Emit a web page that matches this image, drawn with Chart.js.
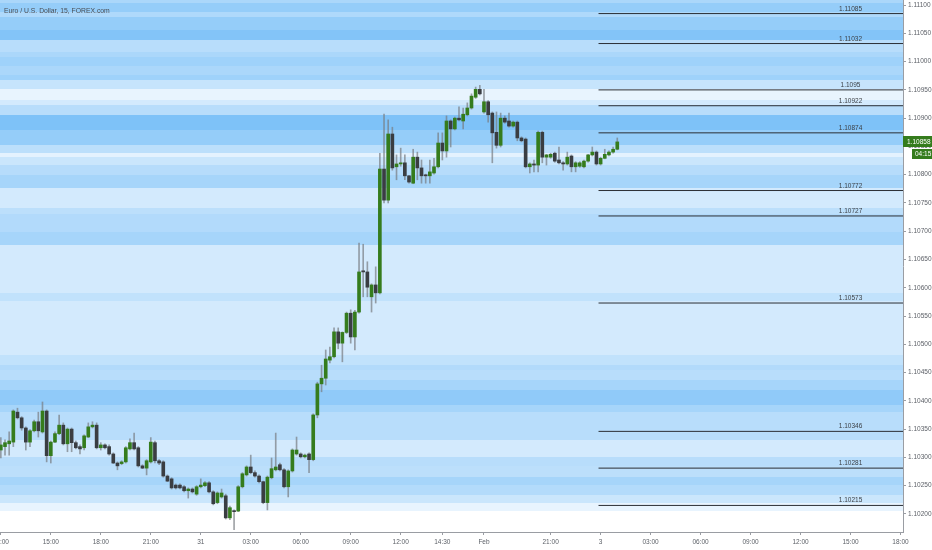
<!DOCTYPE html>
<html>
<head>
<meta charset="utf-8">
<script src="https://cdn.jsdelivr.net/npm/chart.js@4.4.1/dist/chart.umd.min.js"></script>
<style>
  html, body { margin: 0; padding: 0; background: #fff; overflow: hidden; }
  canvas { display: block; }
</style>
</head>
<body>
<canvas id="chart" width="932" height="550"></canvas>
<script>
// EUR/USD 15m candles, index 0 = 30 Jan 12:00
const candleOpen = [
  1.10313,1.10319,1.10324,1.10327,1.10380,1.10370,1.10352,1.10327,1.10347,1.10363,
  1.10345,1.10382,1.10303,1.10327,1.10342,1.10357,1.10324,1.10350,1.10326,1.10319,
  1.10317,1.10336,1.10354,1.10357,1.10317,1.10322,1.10319,1.10306,1.10290,1.10289,
  1.10292,1.10315,1.10326,1.10317,1.10285,1.10281,1.10292,1.10326,1.10294,1.10292,
  1.10267,1.10262,1.10251,1.10251,1.10248,1.10241,1.10244,1.10235,1.10248,1.10250,
  1.10255,1.10239,1.10220,1.10230,1.10232,1.10193,1.10205,1.10205,1.10248,1.10269,
  1.10283,1.10273,1.10267,1.10257,1.10220,1.10264,1.10278,1.10287,1.10278,1.10248,
  1.10276,1.10306,1.10306,1.10301,1.10306,1.10296,1.10375,1.10430,1.10440,1.10472,
  1.10478,1.10522,1.10502,1.10521,1.10555,1.10513,1.10557,1.10630,1.10628,1.10584,
  1.10605,1.10591,1.10810,1.10755,1.10872,1.10814,1.10819,1.10821,1.10798,1.10785,
  1.10831,1.10812,1.10799,1.10798,1.10803,1.10814,1.10856,1.10842,1.10895,1.10881,
  1.10900,1.10895,1.10906,1.10918,1.10937,1.10951,1.10911,1.10929,1.10909,1.10875,
  1.10852,1.10900,1.10895,1.10886,1.10893,1.10865,1.10863,1.10814,1.10819,1.10817,
  1.10875,1.10831,1.10831,1.10838,1.10826,1.10821,1.10819,1.10833,1.10814,1.10815,
  1.10814,1.10824,1.10835,1.10840,1.10819,1.10829,1.10835,1.10840,1.10845
];
const candleHigh = [
  1.10335,1.10331,1.10345,1.10384,1.10387,1.10372,1.10354,1.10349,1.10366,1.10380,
  1.10398,1.10384,1.10329,1.10345,1.10375,1.10361,1.10352,1.10352,1.10329,1.10322,
  1.10340,1.10361,1.10363,1.10361,1.10326,1.10324,1.10322,1.10308,1.10292,1.10294,
  1.10319,1.10333,1.10343,1.10319,1.10287,1.10296,1.10335,1.10329,1.10296,1.10294,
  1.10269,1.10264,1.10253,1.10253,1.10250,1.10246,1.10246,1.10250,1.10262,1.10257,
  1.10257,1.10241,1.10239,1.10244,1.10235,1.10214,1.10207,1.10250,1.10273,1.10285,
  1.10304,1.10276,1.10269,1.10258,1.10267,1.10299,1.10343,1.10290,1.10280,1.10278,
  1.10315,1.10336,1.10308,1.10306,1.10308,1.10377,1.10433,1.10463,1.10490,1.10495,
  1.10529,1.10529,1.10522,1.10557,1.10561,1.10560,1.10679,1.10677,1.10646,1.10607,
  1.10637,1.10838,1.10907,1.10897,1.10884,1.10835,1.10847,1.10835,1.10799,1.10845,
  1.10840,1.10826,1.10801,1.10826,1.10829,1.10874,1.10874,1.10904,1.10897,1.10902,
  1.10920,1.10918,1.10927,1.10943,1.10955,1.10958,1.10951,1.10931,1.10911,1.10911,
  1.10909,1.10904,1.10909,1.10895,1.10895,1.10867,1.10865,1.10821,1.10826,1.10877,
  1.10877,1.10836,1.10838,1.10840,1.10849,1.10823,1.10840,1.10835,1.10823,1.10823,
  1.10826,1.10836,1.10849,1.10842,1.10831,1.10845,1.10842,1.10849,1.10865
];
const candleLow = [
  1.10299,1.10304,1.10304,1.10319,1.10368,1.10348,1.10313,1.10319,1.10345,1.10336,
  1.10343,1.10292,1.10290,1.10326,1.10340,1.10322,1.10310,1.10310,1.10315,1.10306,
  1.10313,1.10335,1.10352,1.10315,1.10313,1.10315,1.10304,1.10289,1.10278,1.10287,
  1.10290,1.10313,1.10313,1.10283,1.10280,1.10269,1.10290,1.10290,1.10287,1.10265,
  1.10257,1.10244,1.10244,1.10244,1.10239,1.10228,1.10237,1.10233,1.10246,1.10248,
  1.10237,1.10216,1.10218,1.10228,1.10191,1.10190,1.10172,1.10204,1.10246,1.10267,
  1.10271,1.10265,1.10255,1.10218,1.10207,1.10262,1.10276,1.10276,1.10246,1.10230,
  1.10274,1.10304,1.10299,1.10299,1.10273,1.10294,1.10370,1.10416,1.10428,1.10467,
  1.10476,1.10492,1.10469,1.10519,1.10502,1.10490,1.10555,1.10584,1.10584,1.10557,
  1.10573,1.10589,1.10750,1.10750,1.10808,1.10791,1.10815,1.10791,1.10785,1.10784,
  1.10791,1.10785,1.10785,1.10785,1.10801,1.10812,1.10826,1.10831,1.10849,1.10879,
  1.10895,1.10881,1.10904,1.10916,1.10935,1.10941,1.10909,1.10893,1.10821,1.10847,
  1.10849,1.10891,1.10884,1.10884,1.10860,1.10858,1.10812,1.10803,1.10805,1.10805,
  1.10821,1.10817,1.10829,1.10822,1.10819,1.10808,1.10817,1.10805,1.10805,1.10813,
  1.10812,1.10822,1.10833,1.10817,1.10817,1.10828,1.10833,1.10838,1.10844
];
const candleClose = [
  1.10322,1.10326,1.10329,1.10382,1.10370,1.10352,1.10327,1.10347,1.10363,1.10347,
  1.10382,1.10303,1.10327,1.10342,1.10357,1.10324,1.10350,1.10326,1.10317,1.10315,
  1.10338,1.10354,1.10357,1.10317,1.10322,1.10317,1.10306,1.10290,1.10285,1.10292,
  1.10317,1.10326,1.10315,1.10285,1.10281,1.10294,1.10327,1.10294,1.10290,1.10267,
  1.10258,1.10246,1.10246,1.10246,1.10241,1.10244,1.10239,1.10248,1.10251,1.10255,
  1.10239,1.10218,1.10237,1.10237,1.10193,1.10211,1.10204,1.10248,1.10271,1.10283,
  1.10273,1.10267,1.10257,1.10220,1.10265,1.10280,1.10283,1.10278,1.10248,1.10276,
  1.10313,1.10313,1.10301,1.10304,1.10296,1.10375,1.10430,1.10440,1.10474,1.10478,
  1.10522,1.10502,1.10521,1.10555,1.10513,1.10557,1.10628,1.10628,1.10601,1.10605,
  1.10591,1.10810,1.10755,1.10872,1.10812,1.10819,1.10821,1.10798,1.10787,1.10831,
  1.10812,1.10798,1.10798,1.10805,1.10814,1.10856,1.10842,1.10895,1.10881,1.10900,
  1.10897,1.10907,1.10918,1.10939,1.10951,1.10943,1.10929,1.10906,1.10874,1.10852,
  1.10900,1.10893,1.10886,1.10893,1.10865,1.10860,1.10814,1.10819,1.10817,1.10875,
  1.10831,1.10835,1.10836,1.10824,1.10821,1.10819,1.10831,1.10814,1.10821,1.10821,
  1.10824,1.10835,1.10840,1.10819,1.10829,1.10836,1.10840,1.10845,1.10858
];

// horizontal levels drawn on the right part of the chart
const levelPrices = [1.11085, 1.11032, 1.1095, 1.10922, 1.10874, 1.10772, 1.10727, 1.10573, 1.10346, 1.10281, 1.10215];
const levelLabels = ['1.11085', '1.11032', '1.1095', '1.10922', '1.10874', '1.10772', '1.10727', '1.10573', '1.10346', '1.10281', '1.10215'];
const levelFrom = 143.5;   // bar index where the level lines start
const levelTextAt = 204;   // bar index where the level text sits

// price heat bands (edges top -> bottom, weight per band)
const bandEdges = [
  1.11109,1.11104,1.11088,1.11079,1.11056,1.11038,1.11017,1.11008,1.10992,1.10976,
  1.10967,1.10951,1.10932,1.10923,1.10906,1.10879,1.10852,1.10838,1.10831,1.10817,
  1.10799,1.10776,1.10741,1.10730,1.10699,1.10676,1.10591,1.10577,1.10481,1.10464,
  1.10455,1.10437,1.10419,1.10393,1.10380,1.10331,1.10301,1.10285,1.10266,1.10251,
  1.10234,1.10220,1.10205
];
const bandWeight = [
  0.38,0.48,0.36,0.48,0.56,0.32,0.38,0.43,0.38,0.43,
  0.26,0.10,0.20,0.32,0.58,0.48,0.30,0.12,0.24,0.33,
  0.40,0.20,0.30,0.35,0.40,0.20,0.28,0.20,0.28,0.35,
  0.32,0.40,0.50,0.40,0.32,0.20,0.32,0.30,0.40,0.34,
  0.24,0.10
];

const xTickIdx = [0, 12, 24, 36, 48, 60, 72, 84, 96, 106, 116, 132, 144, 156, 168, 180, 192, 204, 216];
const xTickLabels = ['12:00', '15:00', '18:00', '21:00', '31', '03:00', '06:00', '09:00', '12:00', '14:30', 'Feb', '21:00', '3', '03:00', '06:00', '09:00', '12:00', '15:00', '18:00'];
const yTickValues = [1.102, 1.1025, 1.103, 1.1035, 1.104, 1.1045, 1.105, 1.1055, 1.106, 1.1065, 1.107, 1.1075, 1.108, 1.1085, 1.109, 1.1095, 1.11, 1.1105, 1.111];

const chartTitle = 'Euro / U.S. Dollar, 15, FOREX.com';
const countdown = '04:15';

const X_MIN = -0.2, X_MAX = 216.6;
const UP = '#357c1d', DOWN = '#3a3d42';
const FONT = "'Liberation Sans', Arial, sans-serif";

const isUp = candleOpen.map((o, i) => candleClose[i] >= o);

const bandPlugin = {
  id: 'bands',
  beforeDatasetsDraw(chart) {
    const { ctx, chartArea: a, scales: { y } } = chart;
    ctx.save();
    ctx.beginPath();
    ctx.rect(a.left, a.top, a.right - a.left, a.bottom - a.top);
    ctx.clip();
    bandWeight.forEach((w, i) => {
      const y1 = Math.round(y.getPixelForValue(bandEdges[i]));
      const y2 = Math.round(y.getPixelForValue(bandEdges[i + 1]));
      ctx.fillStyle = 'rgba(33,150,243,' + w + ')';
      ctx.fillRect(a.left, y1, a.right - a.left, y2 - y1);
    });
    ctx.restore();
  }
};

const overlayPlugin = {
  id: 'overlay',
  afterDraw(chart) {
    const { ctx, chartArea: a, scales: { x, y } } = chart;
    ctx.save();
    // title
    ctx.font = '6.8px ' + FONT;
    ctx.fillStyle = '#4a4e55';
    ctx.textAlign = 'left';
    ctx.textBaseline = 'middle';
    ctx.fillText(chartTitle, a.left + 4, a.top + 11);

    // level texts
    ctx.font = '6.5px ' + FONT;
    ctx.fillStyle = '#3c4046';
    ctx.textAlign = 'center';
    ctx.textBaseline = 'alphabetic';
    const tx = x.getPixelForValue(levelTextAt);
    levelPrices.forEach((p, i) => {
      ctx.fillText(levelLabels[i], tx, y.getPixelForValue(p) - 3);
    });

    // last price box + countdown
    const last = candleClose[candleClose.length - 1];
    const py = Math.round(y.getPixelForValue(last));
    ctx.fillStyle = UP;
    ctx.fillRect(a.right, py - 6, chart.width - a.right, 11);
    ctx.fillRect(a.right + 9, py + 7, chart.width - a.right - 9, 10);
    ctx.fillStyle = '#ffffff';
    ctx.font = '6.5px ' + FONT;
    ctx.textAlign = 'left';
    ctx.textBaseline = 'middle';
    ctx.fillText(last.toFixed(5), a.right + 4, py);
    ctx.fillText(countdown, a.right + 12, py + 12);
    ctx.restore();
  }
};

const datasets = [
  {
    type: 'bar',
    label: 'wick',
    data: candleHigh.map((h, i) => ({ x: i, y: [candleLow[i], h] })),
    backgroundColor: 'rgba(120,124,130,0.7)',
    barThickness: 1,
    grouped: false,
    order: 3
  },
  {
    type: 'bar',
    label: 'body',
    data: candleOpen.map((o, i) => ({ x: i, y: [o, candleClose[i]] })),
    backgroundColor: isUp.map(u => u ? UP : DOWN),
    barThickness: 3,
    minBarLength: 1,
    grouped: false,
    order: 2
  }
];
levelPrices.forEach((p, i) => {
  datasets.push({
    type: 'line',
    label: levelLabels[i],
    data: [{ x: levelFrom, y: p }, { x: X_MAX, y: p }],
    borderColor: '#2b2f35',
    borderWidth: 1,
    pointRadius: 0,
    order: 1
  });
});

new Chart(document.getElementById('chart'), {
  type: 'bar',
  data: { datasets: datasets },
  options: {
    responsive: false,
    animation: false,
    devicePixelRatio: 1,
    layout: { padding: 0 },
    plugins: { legend: { display: false }, tooltip: { enabled: false } },
    scales: {
      x: {
        type: 'linear',
        min: X_MIN,
        max: X_MAX,
        offset: false,
        grid: { offset: false, drawOnChartArea: false, drawTicks: true, tickLength: 3, color: '#9a9da3' },
        border: { display: true, color: '#9a9da3' },
        ticks: {
          autoSkip: false,
          maxRotation: 0,
          padding: 3,
          color: '#5d6168',
          font: { family: FONT, size: 6.5 },
          callback: (v) => xTickLabels[xTickIdx.indexOf(v)]
        },
        afterBuildTicks: (s) => { s.ticks = xTickIdx.map(v => ({ value: v })); },
        afterFit: (s) => { s.height = 18; s.paddingLeft = 0; s.paddingRight = 0; }
      },
      y: {
        type: 'linear',
        position: 'right',
        min: 1.10168,
        max: 1.11109,
        grid: { drawOnChartArea: false, drawTicks: true, tickLength: 3, color: '#9a9da3' },
        border: { display: true, color: '#9a9da3' },
        ticks: {
          padding: 2,
          color: '#5d6168',
          font: { family: FONT, size: 6.5 },
          callback: (v) => v.toFixed(5)
        },
        afterBuildTicks: (s) => { s.ticks = yTickValues.map(v => ({ value: v })); },
        afterFit: (s) => { s.width = 29; s.paddingTop = 0; s.paddingBottom = 0; }
      }
    }
  },
  plugins: [bandPlugin, overlayPlugin]
});
</script>
</body>
</html>
